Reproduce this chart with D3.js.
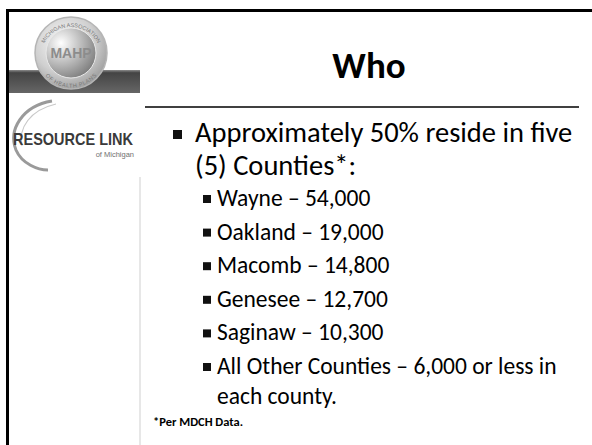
<!DOCTYPE html>
<html>
<head>
<meta charset="utf-8">
<script src="https://cdn.jsdelivr.net/npm/d3@7"></script>
<style>
    body { margin: 0; background: #fff; }
    svg { display: block; }
</style>
</head>
<body>
<div id="slide"></div>
<script>
// Slide content
const slideTitle = "Who";
const introLines = ["Approximately 50% reside in five", "(5) Counties*:"];
const counties = ["Wayne", "Oakland", "Macomb", "Genesee", "Saginaw"];
const countyCounts = [54000, 19000, 14800, 12700, 10300];
const otherCountiesMax = 6000;
const footnote = "*Per MDCH Data.";

// Layout
const config = {
    width: 592,
    height: 445,
    font: "Calibri, Carlito, Lato, sans-serif",
    sidebar: 140,
    rule: { x1: 145, x2: 579, y: 107 }
};

const fmt = d3.format(",");

function drawFrame(svg) {
    const defs = svg.append("defs");

    const band = defs.append("linearGradient")
        .attr("id", "band").attr("x1", 0).attr("y1", 0).attr("x2", 0).attr("y2", 1);
    band.append("stop").attr("offset", "0").attr("stop-color", "#8a8a8a");
    band.append("stop").attr("offset", "0.12").attr("stop-color", "#444");
    band.append("stop").attr("offset", "1").attr("stop-color", "#666");

    const disc = defs.append("radialGradient")
        .attr("id", "disc").attr("cx", "40%").attr("cy", "35%").attr("r", "70%");
    disc.append("stop").attr("offset", "0").attr("stop-color", "#fafafa");
    disc.append("stop").attr("offset", "0.6").attr("stop-color", "#d0d0d0");
    disc.append("stop").attr("offset", "1").attr("stop-color", "#9a9a9a");

    const inner = defs.append("radialGradient")
        .attr("id", "inner").attr("cx", "30%").attr("cy", "30%").attr("r", "80%");
    inner.append("stop").attr("offset", "0").attr("stop-color", "#ffffff");
    inner.append("stop").attr("offset", "0.5").attr("stop-color", "#bdbdbd");
    inner.append("stop").attr("offset", "1").attr("stop-color", "#7a7a7a");

    // dark band in the sidebar
    svg.append("rect")
        .attr("x", 8).attr("y", 70)
        .attr("width", config.sidebar - 8).attr("height", 23)
        .attr("fill", "url(#band)");

    // MAHP seal
    const seal = svg.append("g").attr("transform", "translate(71,53)");
    seal.append("circle").attr("r", 36)
        .attr("fill", "url(#disc)").attr("stroke", "#b5b5b5").attr("stroke-width", 1.5);
    seal.append("circle").attr("r", 25)
        .attr("fill", "url(#inner)").attr("stroke", "#e8e8e8").attr("stroke-width", 1);
    defs.append("path").attr("id", "sealTop")
        .attr("d", "M-30,4 A30,30 0 0,1 30,4");
    defs.append("path").attr("id", "sealBottom")
        .attr("d", "M-28,8 A29,29 0 0,0 28,8");
    seal.append("text")
        .attr("font-family", "Liberation Sans, sans-serif").attr("font-size", 5.5)
        .attr("fill", "#777")
        .append("textPath").attr("href", "#sealTop").attr("startOffset", "50%")
        .attr("text-anchor", "middle").text("MICHIGAN ASSOCIATION");
    seal.append("text")
        .attr("font-family", "Liberation Sans, sans-serif").attr("font-size", 5.5)
        .attr("fill", "#777").attr("dy", 5)
        .append("textPath").attr("href", "#sealBottom").attr("startOffset", "50%")
        .attr("text-anchor", "middle").text("OF HEALTH PLANS");
    seal.append("text")
        .attr("text-anchor", "middle").attr("y", 5)
        .attr("font-family", "Liberation Sans, sans-serif").attr("font-weight", "bold")
        .attr("font-size", 14).attr("fill", "#8c8c8c")
        .text("MAHP");

    // Resource Link logo
    svg.append("path")
        .attr("d", "M52,101 C22,106 8,130 16,150 C22,164 38,170 48,170")
        .attr("fill", "none").attr("stroke", "#9a9a9a").attr("stroke-width", 3);
    svg.append("path")
        .attr("d", "M56,104 C30,110 18,128 22,146")
        .attr("fill", "none").attr("stroke", "#c8c8c8").attr("stroke-width", 1.2);
    svg.append("text")
        .attr("x", 13).attr("y", 145)
        .attr("font-family", "Liberation Sans Narrow, Liberation Sans, sans-serif")
        .attr("font-weight", "bold").attr("font-size", 17)
        .attr("textLength", 120).attr("lengthAdjust", "spacingAndGlyphs")
        .attr("fill", "#3a3a3a")
        .text("RESOURCE LINK");
    svg.append("text")
        .attr("x", 134).attr("y", 157).attr("text-anchor", "end")
        .attr("font-family", "Liberation Sans, sans-serif").attr("font-size", 7.5)
        .attr("fill", "#707070")
        .text("of Michigan");

    // thin divider of the sidebar
    svg.append("line")
        .attr("x1", config.sidebar).attr("x2", config.sidebar)
        .attr("y1", 177).attr("y2", config.height)
        .attr("stroke", "#cfcfcf").attr("stroke-width", 1);

    // slide border (top and left)
    svg.append("path")
        .attr("d", `M7.5,${config.height} L7.5,10.5 L${config.width},10.5`)
        .attr("fill", "none").attr("stroke", "#000").attr("stroke-width", 3);
}

function drawContent(svg) {
    // title
    svg.append("text")
        .attr("x", 369).attr("y", 78)
        .attr("text-anchor", "middle")
        .attr("font-family", config.font).attr("font-weight", "bold")
        .attr("font-size", 37).attr("fill", "#000")
        .text(slideTitle);

    svg.append("line")
        .attr("x1", config.rule.x1).attr("x2", config.rule.x2)
        .attr("y1", config.rule.y).attr("y2", config.rule.y)
        .attr("stroke", "#000").attr("stroke-width", 1.5);

    // first level bullet
    const introY = d3.scaleLinear().domain([0, 1]).range([142, 175]);
    svg.append("rect")
        .attr("x", 173).attr("y", 130).attr("width", 9).attr("height", 9)
        .attr("fill", "#111");
    svg.selectAll(".intro")
        .data(introLines)
        .enter().append("text")
        .attr("class", "intro")
        .attr("x", 195).attr("y", (d, i) => introY(i))
        .attr("font-family", config.font).attr("font-size", 28.5)
        .attr("fill", "#000")
        .text(d => d);

    // second level bullets
    const rows = counties.map((c, i) => `${c} – ${fmt(countyCounts[i])}`);
    rows.push(`All Other Counties – ${fmt(otherCountiesMax)} or less in`);
    const rowY = d3.scaleLinear().domain([0, rows.length - 1]).range([206, 374]);

    const items = svg.append("g").selectAll("g")
        .data(rows)
        .enter().append("g");
    items.append("rect")
        .attr("x", 203).attr("y", (d, i) => rowY(i) - 11)
        .attr("width", 8).attr("height", 8)
        .attr("fill", "#111");
    items.append("text")
        .attr("x", 217).attr("y", (d, i) => rowY(i))
        .attr("font-family", config.font).attr("font-size", 23.5)
        .attr("fill", "#000")
        .text(d => d);

    svg.append("text")
        .attr("x", 217).attr("y", rowY(rows.length - 1) + 30)
        .attr("font-family", config.font).attr("font-size", 23.5)
        .attr("fill", "#000")
        .text("each county.");

    svg.append("text")
        .attr("x", 153).attr("y", 426)
        .attr("font-family", config.font).attr("font-weight", "bold")
        .attr("font-size", 12.5).attr("fill", "#000")
        .text(footnote);
}

document.addEventListener("DOMContentLoaded", () => {
    const svg = d3.select("#slide").append("svg")
        .attr("width", config.width)
        .attr("height", config.height);
    drawFrame(svg);
    drawContent(svg);
});
</script>
</body>
</html>
